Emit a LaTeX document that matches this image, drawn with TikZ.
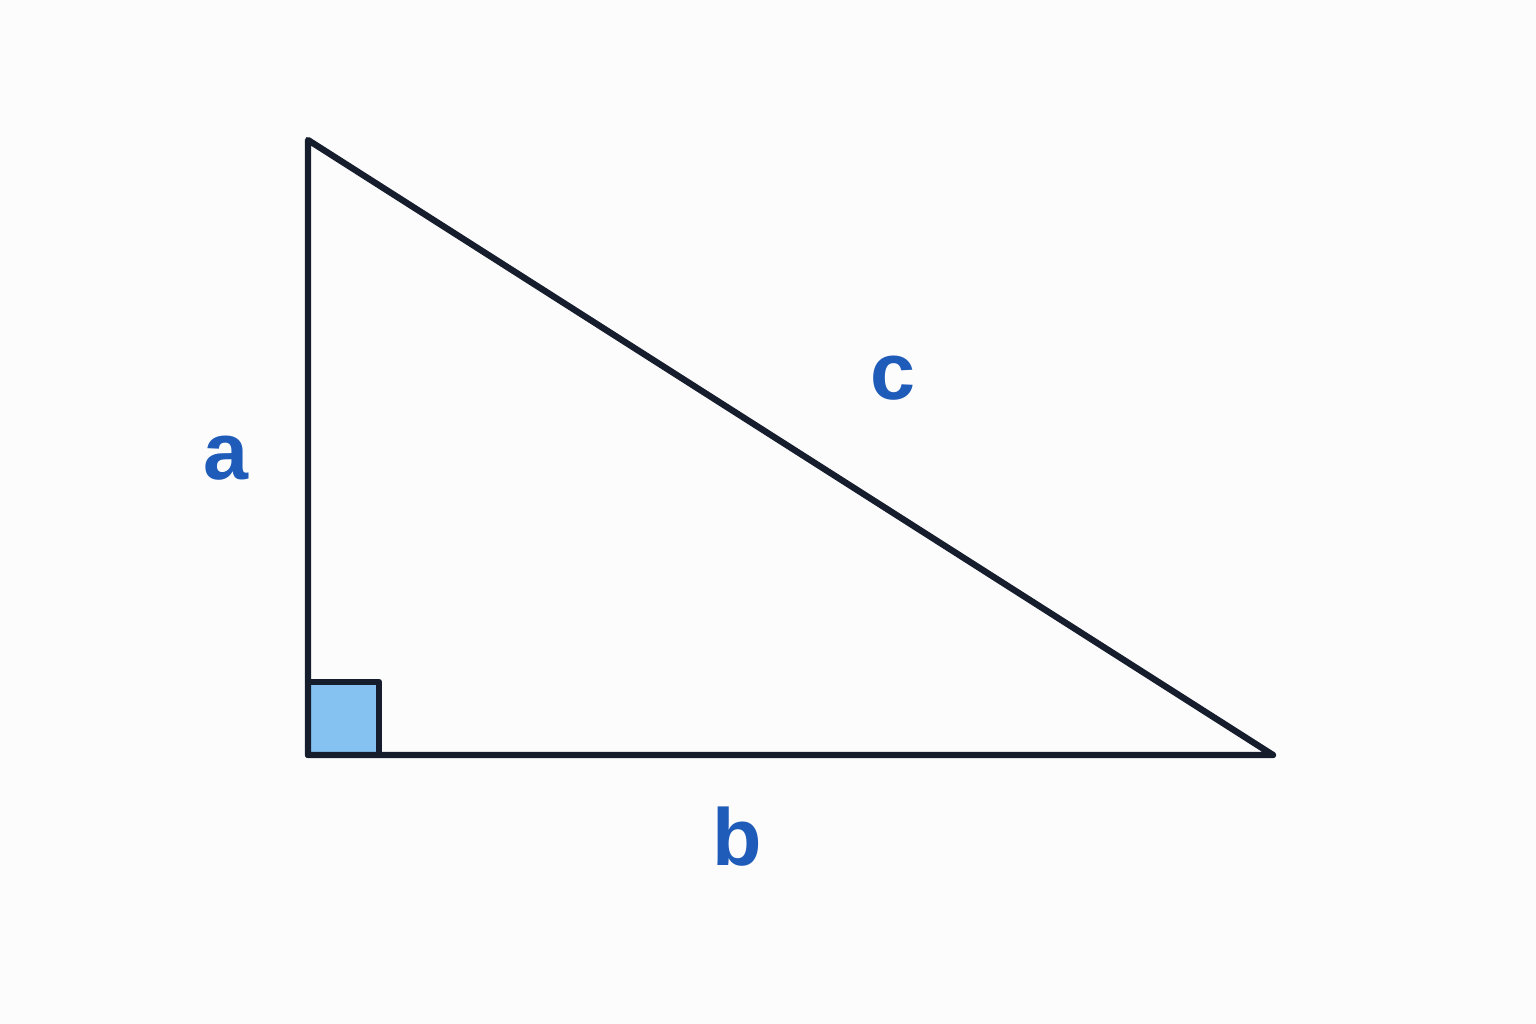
\documentclass[tikz,border=0pt]{standalone}
\usepackage{fontspec}
\setmainfont{Liberation Sans}
\definecolor{edgecol}{HTML}{161D2D}
\definecolor{anglefill}{HTML}{85C2F2}
\definecolor{labelcol}{HTML}{1F5BB8}
\definecolor{bgcol}{HTML}{FCFCFD}
\tikzset{
	side/.style={draw=edgecol,line width=1.8pt,line join=round,line cap=round},
	sidelabel/.style={text=labelcol,font=\fontsize{23}{23}\selectfont\bfseries,inner sep=0pt}
}
\begin{document}
\begin{tikzpicture}[x=0.01cm,y=-0.01cm]
		\fill[bgcol] (0,0) rectangle (1536,1024);
		\useasboundingbox (0,0) rectangle (1536,1024);
		\coordinate (A) at (308,140);
		\coordinate (C) at (308,755);
		\coordinate (B) at (1273,755);
		% right angle mark
		\filldraw[side,fill=anglefill] (C) rectangle (379,682);
		\draw[side] (A) -- (C) -- (B) -- cycle;
		\node[sidelabel] (a) at (226,458) {a};
		\node[sidelabel] (b) at (737,837) {b};
		\node[sidelabel] (c) at (893,378) {c};
\end{tikzpicture}
\end{document}
